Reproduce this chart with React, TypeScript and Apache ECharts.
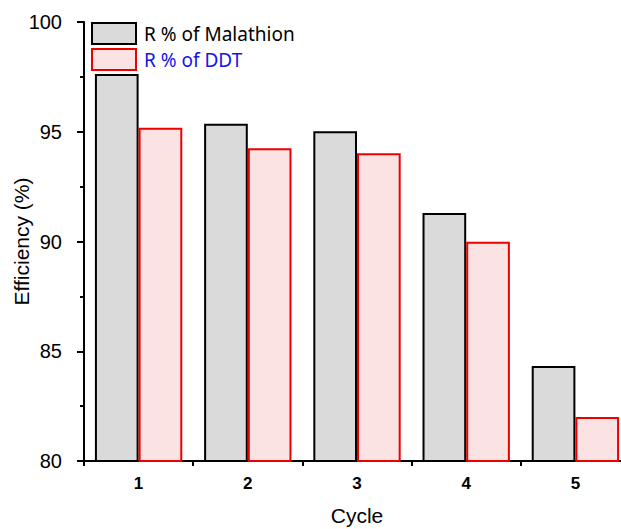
import React, { useEffect, useRef } from "react";
import * as echarts from "echarts";

const categories = ["1", "2", "3", "4", "5"];
const malathion = [97.63, 95.37, 95.02, 91.3, 84.33];
const ddt = [95.18, 94.25, 94.02, 89.99, 82.0];
const seriesNames = ["R % of Malathion", "R % of DDT"];

export default function App() {
  const ref = useRef<HTMLDivElement>(null);
  useEffect(() => {
    const chart = echarts.init(ref.current!, null, { renderer: "svg" });
    const font = "'Liberation Sans', Arial, sans-serif";
    chart.setOption({
      animation: false,
      backgroundColor: "#ffffff",
      textStyle: { fontFamily: font },
      grid: { left: 84, top: 22, bottom: 68, right: 10, containLabel: false, outerBoundsMode: "none" },
      legend: {
        left: 91,
        top: 22,
        padding: 0,
        orient: "vertical",
        icon: "rect",
        itemWidth: 44,
        itemHeight: 21,
        itemGap: 3,
        textStyle: { fontSize: 19, fontFamily: "'Noto Sans', " + font, padding: [0, 0, 0, 3] },
        data: [
          { name: seriesNames[0], textStyle: { color: "#000000" } },
          { name: seriesNames[1], textStyle: { color: "#1414e6" } },
        ],
      },
      xAxis: [
        {
          type: "category",
          data: categories,
          name: "Cycle",
          nameLocation: "middle",
          nameGap: 44,
          nameMoveOverlap: false,
          nameTextStyle: { fontSize: 21, color: "#000" },
          axisLine: { lineStyle: { color: "#000", width: 2 } },
          axisTick: { alignWithLabel: true, length: 8, lineStyle: { color: "#000", width: 2 } },
          axisLabel: { fontSize: 17, fontWeight: "bold", color: "#000", margin: 14 },
          splitLine: { show: false },
        },
        {
          type: "value",
          position: "bottom",
          min: 0,
          max: 5,
          interval: 1,
          axisLine: { show: false },
          axisTick: { show: true, length: 5, lineStyle: { color: "#000", width: 2 } },
          axisLabel: { show: false },
          splitLine: { show: false },
        },
      ],
      yAxis: {
        type: "value",
        min: 80,
        max: 100,
        interval: 5,
        name: "Efficiency (%)",
        nameLocation: "middle",
        nameGap: 52,
        nameMoveOverlap: false,
        nameTextStyle: { fontSize: 21, color: "#000" },
        axisLine: { show: true, lineStyle: { color: "#000", width: 2 } },
        axisTick: { show: true, length: 7, lineStyle: { color: "#000", width: 2 } },
        minorTick: { show: true, splitNumber: 2, length: 4, lineStyle: { color: "#000", width: 2 } },
        axisLabel: { fontSize: 20, color: "#000", margin: 22 },
        splitLine: { show: false },
      },
      series: [
        {
          name: seriesNames[0],
          type: "bar",
          data: malathion,
          barGap: "0%",
          barCategoryGap: "20%",
          itemStyle: { color: "#dadada", borderColor: "#000", borderWidth: 2 },
        },
        {
          name: seriesNames[1],
          type: "bar",
          data: ddt,
          itemStyle: { color: "#fbe3e3", borderColor: "#ee0000", borderWidth: 2 },
        },
      ],
    });
    return () => chart.dispose();
  }, []);
  return (
    <div style={{ position: "fixed", left: 0, top: 0, width: 621, height: 529, overflow: "hidden" }}>
      <div ref={ref} style={{ width: 640, height: 529 }} />
    </div>
  );
}
